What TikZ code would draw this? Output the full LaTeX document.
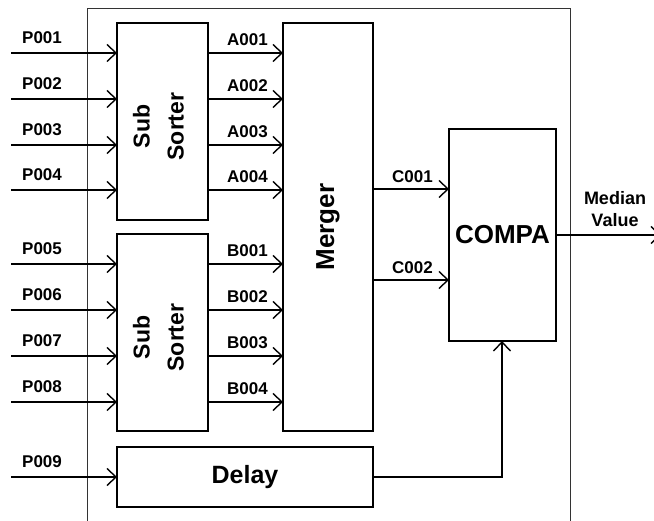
\documentclass[tikz,border=0pt]{standalone}
\usepackage{fontspec}
\setmainfont{Liberation Sans}
\usetikzlibrary{arrows.meta}
\tikzset{
  blk/.style={draw=black, line width=1.8pt, fill=white, inner sep=0pt, outer sep=0pt, anchor=north west},
  sig/.style={line width=1.8pt, -{Straight Barb[length=9pt, width=17pt, line width=1.4pt]}},
  lbl/.style={font=\fontsize{17}{19}\bfseries\selectfont, inner sep=0pt},
  big/.style={font=\fontsize{26}{28}\bfseries\selectfont, inner sep=0pt, align=center},
  subtxt/.style={big, rotate=90, font=\fontsize{23}{34}\bfseries\selectfont},
  frame/.style={line width=0.9pt, draw=black!80}
}
\begin{document}
\begin{tikzpicture}[x=1pt, y=-1pt]
\useasboundingbox (0,0) rectangle (654,521);
% outer frame
\draw[frame] (87,530) -- (87,8) -- (570,8) -- (570,530);
% blocks
\node[blk, minimum width=91pt, minimum height=197pt] (ssa) at (117,23) {};
\node[blk, minimum width=91pt, minimum height=197pt] (ssb) at (117,234) {};
\node[blk, minimum width=90pt, minimum height=408pt] (mrg) at (283,23) {};
\node[blk, minimum width=107pt, minimum height=212pt] (cmp) at (449,129) {};
\node[blk, minimum width=256pt, minimum height=60pt] (dly) at (117,447) {};
% block texts
\node[subtxt] (tssa) at ([xshift=-4pt, yshift=-5pt]ssa.center) {Sub\\Sorter};
\node[subtxt] (tssb) at ([xshift=-4pt, yshift=-5pt]ssb.center) {Sub\\Sorter};
\node[big, rotate=90] (tmrg) at (mrg.center) {Merger};
\node[big] (tcmp) at (cmp.center) {COMPA};
\node[big, font=\fontsize{25}{27}\bfseries\selectfont] (tdly) at (dly.center) {Delay};
% inputs
\foreach \i/\y in {1/53,2/99,3/145,4/190,5/264,6/310,7/356,8/402,9/477}{
  \coordinate (in\i) at (11,\y);
  \node[lbl, anchor=west] (lp\i) at (22,\y-15.5) {P00\i};
}
\foreach \i in {1,2,3,4}{ \draw[sig] (in\i) -- (in\i -| ssa.west); }
\foreach \i in {5,6,7,8}{ \draw[sig] (in\i) -- (in\i -| ssb.west); }
\draw[sig] (in9) -- (in9 -| dly.west);
% A outputs
\foreach \i/\y in {1/53,2/99,3/145,4/190}{
  \coordinate (a\i) at (208,\y);
  \draw[sig] (a\i) -- (a\i -| mrg.west);
  \node[lbl, anchor=east] (la\i) at (268,\y-13.5) {A00\i};
}
\foreach \i/\y in {1/264,2/310,3/356,4/402}{
  \coordinate (b\i) at (208,\y);
  \draw[sig] (b\i) -- (b\i -| mrg.west);
  \node[lbl, anchor=east] (lb\i) at (268,\y-13.5) {B00\i};
}
% C outputs
\coordinate (c1) at (373,189);
\coordinate (c2) at (373,280);
\draw[sig] (c1) -- (c1 -| cmp.west);
\draw[sig] (c2) -- (c2 -| cmp.west);
\node[lbl, anchor=east] (lc1) at (433,177) {C001};
\node[lbl, anchor=east] (lc2) at (433,268) {C002};
% delay to compa
\coordinate (dc) at (502,477);
\draw[sig] (dly.east |- dc) -- (dc) -- (dc |- cmp.south);
% output
\coordinate (out) at (661,235);
\draw[sig] (cmp.east) -- (out);
\node[lbl, align=center, font=\fontsize{18}{22}\bfseries\selectfont] (lmed) at (615,209) {Median\\Value};
\end{tikzpicture}
\end{document}
